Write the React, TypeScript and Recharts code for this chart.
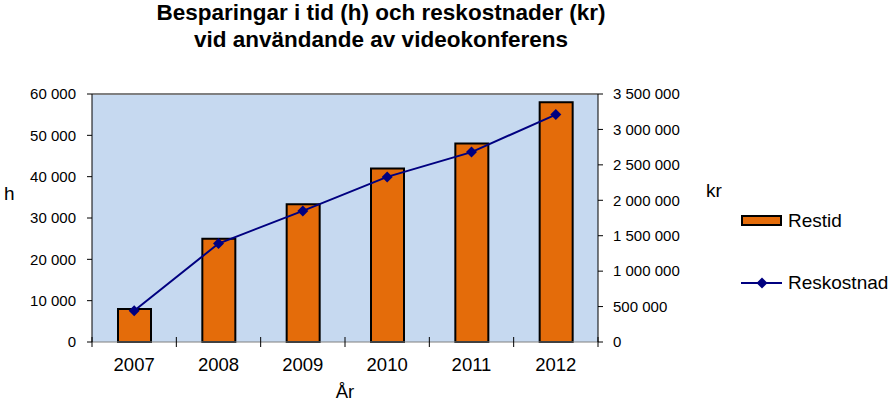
import { ComposedChart, Bar, Line, XAxis, YAxis, CartesianGrid, ReferenceLine } from 'recharts'

const years = ['2007', '2008', '2009', '2010', '2011', '2012']
const restid = [8000, 25000, 33300, 42000, 48000, 58000]
const reskostnad = [440000, 1390000, 1850000, 2330000, 2680000, 3210000]
const leftTicks = [0, 10000, 20000, 30000, 40000, 50000, 60000]
const rightTicks = [0, 500000, 1000000, 1500000, 2000000, 2500000, 3000000, 3500000]

const data = years.map((year, i) => ({
  year,
  Restid: restid[i],
  Reskostnad: reskostnad[i],
}))

const W = 893
const H = 401
const PLOT_LEFT = 92
const PLOT_RIGHT = 598
const HALF_BAND = (PLOT_RIGHT - PLOT_LEFT) / years.length / 2
const FONT = '"Liberation Sans", Arial, sans-serif'

const fmt = (v: number) => String(v).replace(/\B(?=(\d{3})+(?!\d))/g, ' ')

const YearTick = (props: any) => {
  const { x, y, payload, index } = props
  const last = index === years.length - 1
  return (
    <g>
      <line x1={x - HALF_BAND} x2={x - HALF_BAND} y1={y - 5} y2={y + 5} stroke="#000" />
      {last && <line x1={x + HALF_BAND} x2={x + HALF_BAND} y1={y - 5} y2={y + 5} stroke="#000" />}
      <text x={x} y={y + 29} textAnchor="middle" fontSize={18.5} fontFamily={FONT} fill="#000">
        {payload.value}
      </text>
    </g>
  )
}

const Diamond = (props: any) => {
  const { cx, cy } = props
  if (cx == null || cy == null) return null
  return <polygon points={`${cx},${cy - 5.5} ${cx + 5.5},${cy} ${cx},${cy + 5.5} ${cx - 5.5},${cy}`} fill="#000080" />
}

export default function App() {
  return (
    <div style={{ position: 'absolute', left: 0, top: 0, width: W, height: H, background: '#fff' }}>
      <ComposedChart
        width={W}
        height={H}
        data={data}
        margin={{ top: 94, right: 0, bottom: 0, left: 0 }}
      >
        <CartesianGrid fill="#C6D9F0" horizontal={false} vertical={false} />
        <XAxis
          dataKey="year"
          height={59}
          stroke="#808080"
          tickLine={false}
          tickSize={0}
          tickMargin={0}
          tick={<YearTick />}
          interval={0}
        />
        <YAxis
          yAxisId="left"
          width={PLOT_LEFT}
          domain={[0, 60000]}
          ticks={leftTicks}
          tickFormatter={fmt}
          stroke="#000"
          tickSize={5}
          tickMargin={11}
          tick={{ fontSize: 15, fontFamily: FONT, fill: '#000' }}
          interval={0}
        />
        <YAxis
          yAxisId="right"
          orientation="right"
          width={W - PLOT_RIGHT}
          domain={[0, 3500000]}
          ticks={rightTicks}
          tickFormatter={fmt}
          stroke="#000"
          tickSize={5}
          tickMargin={10}
          tick={{ fontSize: 15, fontFamily: FONT, fill: '#000' }}
          interval={0}
        />
        <ReferenceLine yAxisId="left" y={60000} stroke="#808080" strokeWidth={2} />
        <Bar
          yAxisId="left"
          dataKey="Restid"
          fill="#E46C0A"
          stroke="#000"
          strokeWidth={2}
          barSize={33}
          isAnimationActive={false}
        />
        <Line
          yAxisId="right"
          dataKey="Reskostnad"
          stroke="#000080"
          strokeWidth={2}
          dot={<Diamond />}
          activeDot={false}
          isAnimationActive={false}
        />
      </ComposedChart>
      <svg
        width={W}
        height={H}
        style={{ position: 'absolute', left: 0, top: 0, pointerEvents: 'none' }}
        fontFamily={FONT}
      >
        <text x={381} y={20} textAnchor="middle" fontSize={22.5} fontWeight="bold">
          Besparingar i tid (h) och reskostnader (kr)
        </text>
        <text x={381} y={47} textAnchor="middle" fontSize={22.5} fontWeight="bold">
          vid användande av videokonferens
        </text>
        <text x={4} y={200} fontSize={19}>h</text>
        <text x={706} y={197} fontSize={19}>kr</text>
        <text x={345} y={398} textAnchor="middle" fontSize={18.5}>År</text>
        <rect x={742} y={216} width={39} height={9} fill="#E46C0A" stroke="#000" strokeWidth={2} />
        <text x={788} y={227} fontSize={19}>Restid</text>
        <line x1={741} x2={782} y1={283} y2={283} stroke="#000080" strokeWidth={2} />
        <Diamond cx={762} cy={283} />
        <text x={788} y={289} fontSize={19}>Reskostnad</text>
      </svg>
    </div>
  )
}
